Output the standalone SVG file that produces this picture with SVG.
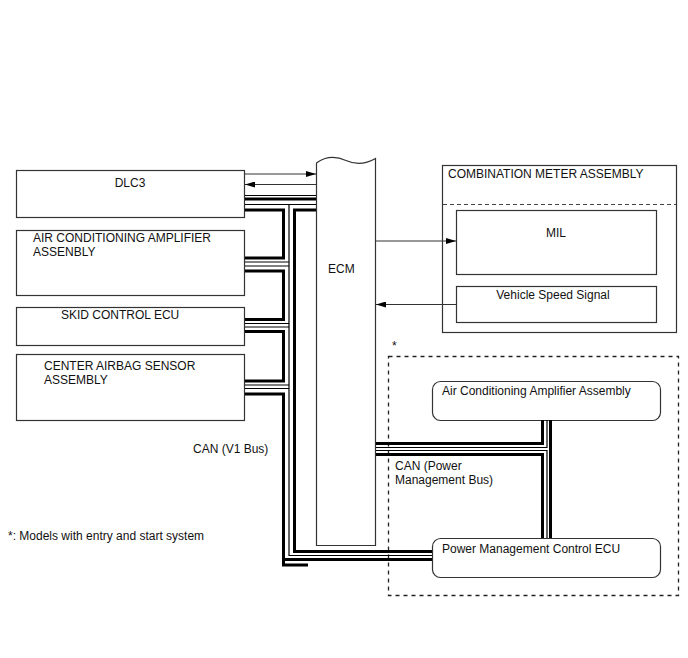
<svg xmlns="http://www.w3.org/2000/svg" width="688" height="658" viewBox="0 0 688 658">
<style>
.box{fill:#fff;stroke:#333;stroke-width:1.2}
.t{font-family:"Liberation Sans",Arial,sans-serif;font-size:12px;fill:#111}
.thick{fill:none;stroke:#000;stroke-width:3}
.thin{fill:none;stroke:#000;stroke-width:1.2}
.sig{fill:none;stroke:#333;stroke-width:1;marker-end:url(#ah)}
.dash{fill:none;stroke:#222;stroke-width:1.3;stroke-dasharray:4,4}
</style>
<defs>
<marker id="ah" viewBox="0 0 10 6" refX="10" refY="3" markerWidth="10" markerHeight="6" markerUnits="userSpaceOnUse" orient="auto">
<path d="M0,0 L10,3 L0,6 Z" fill="#000"/>
</marker>
</defs>
<rect width="688" height="658" fill="#fff"/>

<g id="dashed-group">
<rect x="388.5" y="356.5" width="290" height="239" class="dash"/>
<text x="392" y="350" class="t">*</text>
</g>

<g id="dlc3">
<rect x="16.5" y="170.5" width="228" height="47" class="box"/>
<text x="130" y="187" class="t" text-anchor="middle">DLC3</text>
</g>
<g id="ac-amp">
<rect x="16.5" y="230.5" width="228" height="65" class="box"/>
<text x="33" y="242" class="t">AIR CONDITIONING AMPLIFIER</text>
<text x="33" y="256" class="t">ASSENBLY</text>
</g>
<g id="skid">
<rect x="16.5" y="307.5" width="228" height="38" class="box"/>
<text x="61" y="319" class="t">SKID CONTROL ECU</text>
</g>
<g id="airbag">
<rect x="16.5" y="354.5" width="228" height="66" class="box"/>
<text x="44" y="370" class="t">CENTER AIRBAG SENSOR</text>
<text x="44" y="384" class="t">ASSEMBLY</text>
</g>
<g id="ecm">
<path d="M316.5,545.5 V163 C326,156 336,156 346,160.5 C356,165 366,164 375.5,158.5 V545.5 Z" class="box"/>
<text x="328" y="273" class="t">ECM</text>
</g>
<g id="combination-meter">
<rect x="442.5" y="165.5" width="234" height="167" class="box"/>
<text x="448" y="178" class="t">COMBINATION METER ASSEMBLY</text>
<line x1="443" y1="204.5" x2="676" y2="204.5" stroke="#444" stroke-width="1" stroke-dasharray="4,3"/>
</g>
<g id="mil">
<rect x="456.5" y="210.5" width="200" height="64" class="box"/>
<text x="556" y="237" class="t" text-anchor="middle">MIL</text>
</g>
<g id="vss">
<rect x="456.5" y="286.5" width="200" height="36" class="box"/>
<text x="553" y="299" class="t" text-anchor="middle">Vehicle Speed Signal</text>
</g>
<g id="ac-amp-r">
<rect x="432.5" y="381.5" width="228" height="39" rx="8" class="box"/>
<text x="442" y="395" class="t">Air Conditioning Amplifier Assembly</text>
</g>
<g id="pm-ecu">
<rect x="432.5" y="538.5" width="228" height="39" rx="8" class="box"/>
<text x="442" y="553" class="t">Power Management Control ECU</text>
</g>

<g id="connectors">
<!-- signal arrows -->
<line x1="245" y1="174" x2="316" y2="174" class="sig"/>
<line x1="316" y1="184.5" x2="245" y2="184.5" class="sig"/>
<line x1="376" y1="241" x2="456" y2="241" class="sig"/>
<line x1="456" y1="304.5" x2="376" y2="304.5" class="sig"/>
<!-- CAN V1 bus: DLC3 to ECM -->
<line x1="245" y1="195.5" x2="316" y2="195.5" class="thin"/>
<line x1="245" y1="199" x2="316" y2="199" class="thick"/>
<line x1="245" y1="204.5" x2="316" y2="204.5" class="thin"/>
<path d="M316,210 H294.5 V551.5 H432" class="thick"/>
<path d="M289,204.5 V555.5 H432" class="thin"/>
<!-- daisy chain loops -->
<path d="M245,210 H283.5 V258 H245" class="thick"/>
<path d="M245,262 H289 M245,266 H289" class="thin"/>
<path d="M245,271 H283.5 V319.5 H245" class="thick"/>
<path d="M245,323.5 H289 M245,327 H289" class="thin"/>
<path d="M245,331.5 H283.5 V381 H245" class="thick"/>
<path d="M245,385 H289 M245,388.5 H289" class="thin"/>
<path d="M245,394 H283.5 V565 H308" class="thick"/>
<line x1="283.5" y1="559.5" x2="432" y2="559.5" class="thick"/>
<!-- Power management bus -->
<path d="M542.5,420 V443.5 H376" class="thick"/>
<path d="M547,420 V447.5 H376" class="thin"/>
<path d="M376,450.5 H547 V538" class="thin"/>
<path d="M376,454.5 H542.5 V538" class="thick"/>
<line x1="550.5" y1="420" x2="550.5" y2="538" class="thick"/>
</g>

<g id="labels">
<text x="193" y="453" class="t">CAN (V1 Bus)</text>
<text x="395" y="470" class="t">CAN (Power</text>
<text x="395" y="484" class="t">Management Bus)</text>
<text x="8" y="540" class="t">*: Models with entry and start system</text>
</g>
</svg>
